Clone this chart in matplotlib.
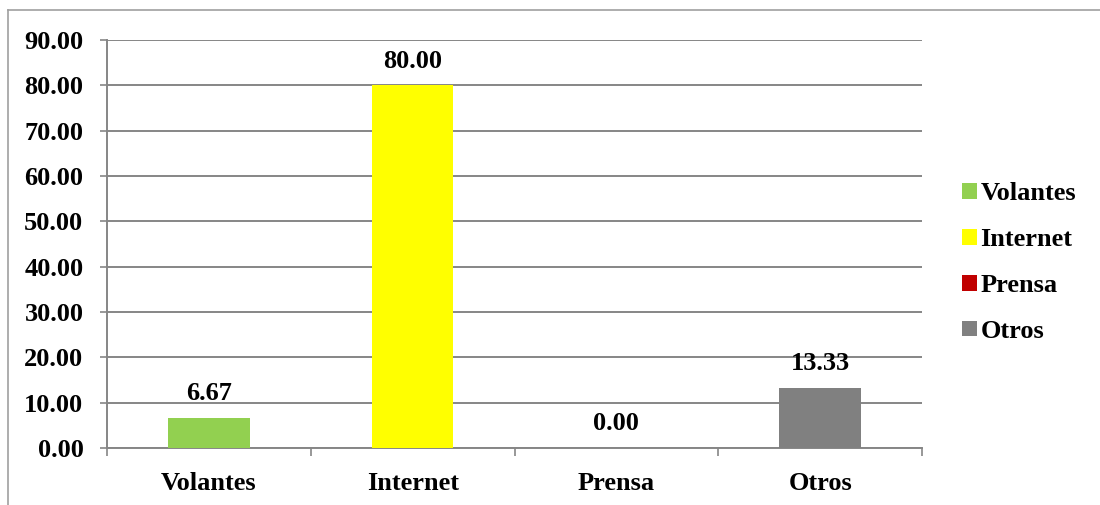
import matplotlib
matplotlib.use("Agg")
import matplotlib.pyplot as plt
from matplotlib.lines import Line2D

categories = ["Volantes", "Internet", "Prensa", "Otros"]
values = [6.67, 80.00, 0.00, 13.33]
colors = ["#92D050", "#FFFF00", "#C00000", "#808080"]
yticks = [0, 10, 20, 30, 40, 50, 60, 70, 80, 90]

plt.rcParams['font.family'] = ['Liberation Serif', 'DejaVu Serif']
plt.rcParams['font.weight'] = 'bold'
FS = 19

fig = plt.figure(figsize=(11, 5.05), dpi=100)
ax = fig.add_axes([107/1100, 57/505, (922-107)/1100, (448-40)/505])

grid_c = "#868686"
x = list(range(len(categories)))
for i, (c, v, col) in enumerate(zip(categories, values, colors)):
    ax.bar(i, v, width=0.40, color=col, label=c, zorder=3)
    ax.annotate(f"{v:.2f}", (i, v), xytext=(0, 9), textcoords="offset points",
                ha="center", va="bottom", fontsize=FS, fontweight="bold")

ax.set_xlim(-0.5, len(categories) - 0.5)
ax.set_ylim(0, 90)
ax.set_yticks(yticks)
ax.set_yticklabels([f"{t:.2f}" for t in yticks], fontsize=FS, fontweight="bold")
ax.set_xticks(x)
ax.set_xticklabels(categories, fontsize=FS, fontweight="bold")
ax.set_xticks([i - 0.5 for i in range(len(categories) + 1)], minor=True)
ax.tick_params(axis='x', which='major', length=0, pad=17)
ax.tick_params(axis='x', which='minor', length=6, width=1.2, color=grid_c, direction='out')
ax.tick_params(axis='y', length=5, width=1.2, color=grid_c, direction='out', pad=12)
ax.yaxis.grid(True, color=grid_c, linewidth=1.4, zorder=0)
ax.set_axisbelow(True)
for s in ["top", "right"]:
    ax.spines[s].set_visible(False)
for s in ["left", "bottom"]:
    ax.spines[s].set_color(grid_c)
    ax.spines[s].set_linewidth(1.4)

leg = ax.legend(loc="upper left", bbox_to_anchor=(962/1100, 1 - 182/505),
                bbox_transform=fig.transFigure, frameon=False,
                prop={'size': FS, 'weight': 'bold'}, handlelength=0.55,
                handleheight=0.55, handletextpad=0.15, labelspacing=0.87,
                borderpad=0, borderaxespad=0)

# outer chart border (left and top visible)
bc = "#A0A0A0"
fig.add_artist(Line2D([7.5/1100, 7.5/1100], [0, 1 - 10/505], transform=fig.transFigure, color=bc, linewidth=1.2))
fig.add_artist(Line2D([7.5/1100, 1], [1 - 10/505, 1 - 10/505], transform=fig.transFigure, color=bc, linewidth=1.2))

fig.savefig("out.png", dpi=100)
